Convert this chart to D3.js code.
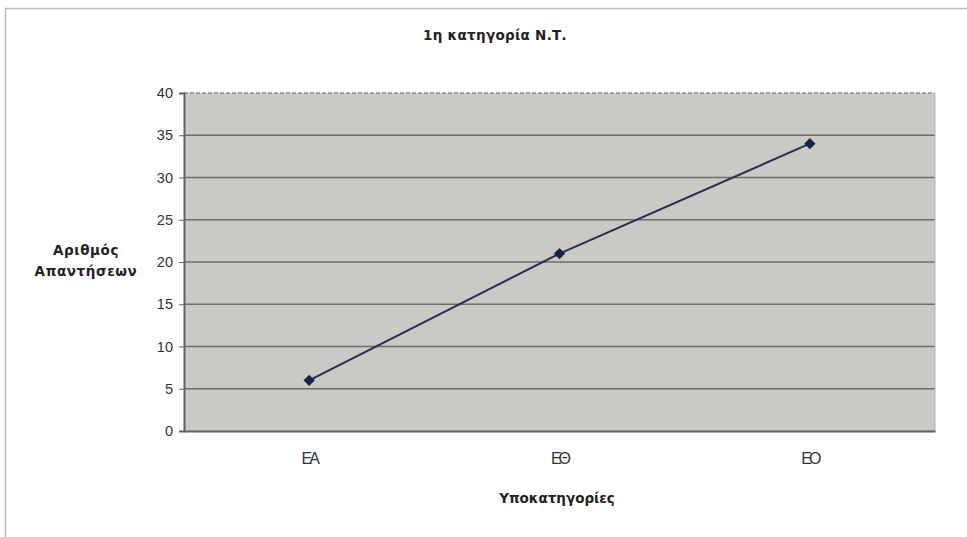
<!DOCTYPE html>
<html>
<head>
<meta charset="utf-8">
<script src="https://cdn.jsdelivr.net/npm/d3@7"></script>
<style>
  html, body { margin: 0; padding: 0; background: #ffffff; }
  svg { display: block; font-family: "Liberation Sans", Arial, sans-serif; }
</style>
</head>
<body>
<svg id="chart" width="967" height="537"></svg>
<script>
// Responses per subcategory
const categories = ["ΕΑ", "ΕΘ", "ΕΟ"];
const values = [6, 21, 34];
const yTicks = [0, 5, 10, 15, 20, 25, 30, 35, 40];
const chartTitle = "1η κατηγορία Ν.Τ.";
const yTitle = ["Αριθμός", "Απαντήσεων"];
const xTitle = "Υποκατηγορίες";

const svg = d3.select("#chart");
const W = 967, H = 537;
const plot = { left: 184, top: 93, right: 935, bottom: 431 };
const boldFont = "'DejaVu Sans', Verdana, sans-serif";

// outer frame
svg.append("path")
  .attr("d", `M5.5,${H} V8.5 H${W}`)
  .attr("fill", "none")
  .attr("stroke", "#b9bcb6")
  .attr("stroke-width", 1.5);

const x = d3.scaleBand().domain(categories).range([plot.left, plot.right]);
const y = d3.scaleLinear().domain([0, 40]).range([plot.bottom, plot.top]);

// plot area
svg.append("rect")
  .attr("x", plot.left).attr("y", plot.top)
  .attr("width", plot.right - plot.left)
  .attr("height", plot.bottom - plot.top)
  .attr("fill", "#c9cac5");

// horizontal gridlines
svg.append("g")
  .selectAll("line")
  .data(yTicks.filter(d => d > 0))
  .join("line")
  .attr("x1", plot.left).attr("x2", plot.right)
  .attr("y1", d => y(d)).attr("y2", d => y(d))
  .attr("stroke", d => d === 40 ? "#8a8d86" : "#6b6e67")
  .attr("stroke-width", 1.3)
  .attr("stroke-dasharray", d => d === 40 ? "4,2" : null);

// right border of plot
svg.append("line")
  .attr("x1", plot.right).attr("x2", plot.right)
  .attr("y1", plot.top).attr("y2", plot.bottom)
  .attr("stroke", "#b3b5b0");

// y axis
const yAxis = svg.append("g")
  .attr("transform", `translate(${plot.left},0)`)
  .call(d3.axisLeft(y).tickValues(yTicks).tickSize(5).tickPadding(6));
yAxis.select(".domain").attr("stroke", "#60635c").attr("stroke-width", 2);
yAxis.selectAll(".tick line").attr("stroke", "#60635c");
yAxis.selectAll("text")
  .attr("font-size", 14.5)
  .attr("fill", "#333")
  .attr("font-family", "'Liberation Sans', Arial, sans-serif");

// x axis
const xAxis = svg.append("g")
  .attr("transform", `translate(0,${plot.bottom})`)
  .call(d3.axisBottom(x).tickSize(0).tickPadding(22));
xAxis.select(".domain").attr("stroke", "#60635c").attr("stroke-width", 2);
xAxis.selectAll("text")
  .attr("font-size", 16)
  .attr("fill", "#333")
  .attr("letter-spacing", "-3px")
  .attr("font-family", "'Liberation Sans', Arial, sans-serif");

// data line
const line = d3.line()
  .x((d, i) => x(categories[i]) + x.bandwidth() / 2)
  .y(d => y(d));
svg.append("path")
  .datum(values)
  .attr("d", line)
  .attr("fill", "none")
  .attr("stroke", "#26304f")
  .attr("stroke-width", 2);

// diamond markers (rotated squares)
svg.append("g")
  .selectAll("path")
  .data(values)
  .join("path")
  .attr("d", d3.symbol(d3.symbolSquare, 64))
  .attr("transform", (d, i) => `translate(${x(categories[i]) + x.bandwidth() / 2},${y(d)}) rotate(45)`)
  .attr("fill", "#1b2446");

// titles
svg.append("text")
  .attr("x", 495).attr("y", 40)
  .attr("text-anchor", "middle")
  .attr("font-family", boldFont)
  .attr("font-size", 13.5).attr("font-weight", "bold")
  .attr("letter-spacing", "0.3px")
  .attr("fill", "#222")
  .text(chartTitle);

svg.append("text")
  .attr("text-anchor", "middle")
  .attr("font-family", boldFont)
  .attr("font-size", 13.5).attr("font-weight", "bold")
  .attr("letter-spacing", "0.6px")
  .attr("fill", "#222")
  .selectAll("tspan")
  .data(yTitle)
  .join("tspan")
  .attr("x", 86)
  .attr("y", (d, i) => 255 + i * 21)
  .text(d => d);

svg.append("text")
  .attr("x", 557).attr("y", 503)
  .attr("text-anchor", "middle")
  .attr("font-family", boldFont)
  .attr("font-size", 13.5).attr("font-weight", "bold")
  .attr("fill", "#222")
  .text(xTitle);
</script>
</body>
</html>
